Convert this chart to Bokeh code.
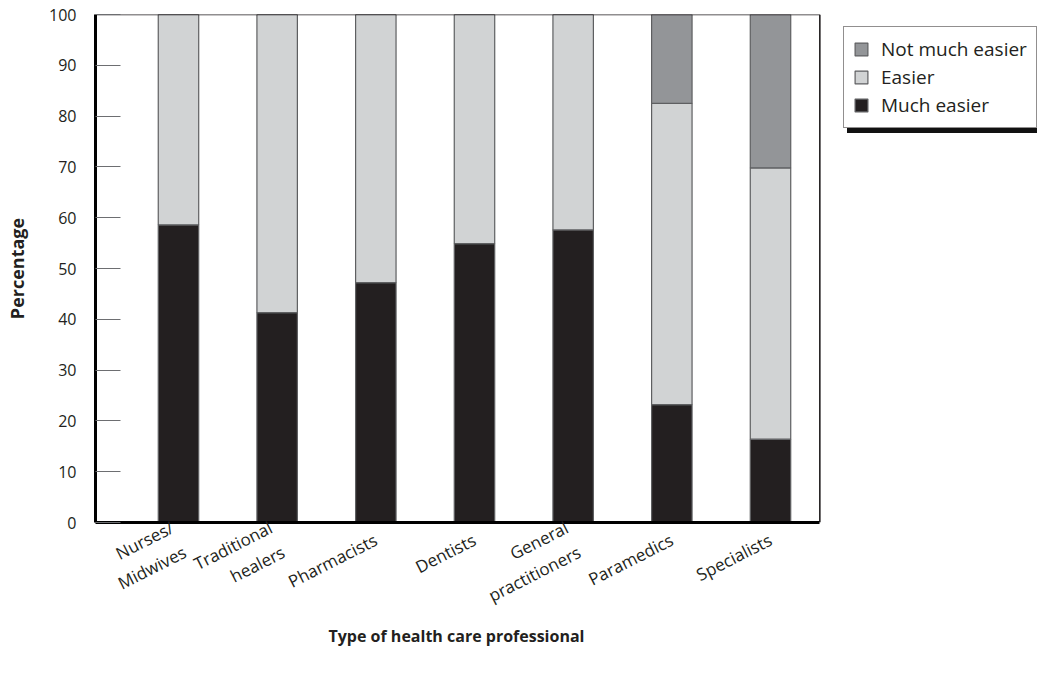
from bokeh.plotting import figure
from bokeh.models import Legend, LegendItem, FixedTicker, Range1d, ColumnDataSource, Title
from bokeh.embed import file_html
from bokeh.resources import INLINE

# ---- data ----
categories = ["Nurses/\nMidwives", "Traditional\nhealers", "Pharmacists", "Dentists",
              "General\npractitioners", "Paramedics", "Specialists"]
much_easier = [58.6, 41.3, 47.2, 54.9, 57.6, 23.2, 16.4]
easier = [41.4, 58.7, 52.8, 45.1, 42.4, 59.3, 53.4]
not_much_easier = [0, 0, 0, 0, 0, 17.5, 30.2]
series_names = ["Much easier", "Easier", "Not much easier"]
series_colors = ["#231f20", "#d1d3d4", "#939598"]
y_ticks = [0, 10, 20, 30, 40, 50, 60, 70, 80, 90, 100]

FONT = "Open Sans"
positions = list(range(len(categories)))
source = ColumnDataSource(dict(x=positions, much=much_easier, easier=easier, notmuch=not_much_easier))

X_START = -0.841
X_END = 8.706                      # frame extends under the legend area
BOX_RIGHT = len(categories) - 0.5  # right edge of the plotting box

p = figure(width=1037, height=669,
           x_range=Range1d(X_START, X_END), y_range=Range1d(0, 100),
           output_backend="svg", toolbar_location=None,
           min_border_left=95, min_border_right=0, min_border_top=14, min_border_bottom=147)
p.background_fill_color = "white"
p.border_fill_color = "white"
p.outline_line_color = None
p.xgrid.visible = False
p.ygrid.visible = False

renderers = p.vbar_stack(["much", "easier", "notmuch"], x="x", width=0.41, source=source,
                         fill_color=series_colors, line_color="#5e5f61", line_width=1.2)

# top and right border of the plotting box
p.segment(x0=[X_START, BOX_RIGHT], y0=[100, 0], x1=[BOX_RIGHT, BOX_RIGHT], y1=[100, 100],
          line_color="#231f20", line_width=1.6)

# x axis
xa = p.xaxis[0]
xa.bounds = (X_START, BOX_RIGHT)
xa.ticker = FixedTicker(ticks=positions)
xa.major_label_overrides = {i: c for i, c in zip(positions, categories)}
xa.major_tick_line_color = None
xa.minor_tick_line_color = None
xa.axis_line_width = 3
xa.axis_line_color = "black"
xa.major_label_orientation = 0.47
xa.major_label_standoff = 10
xa.major_label_text_font = FONT
xa.major_label_text_font_size = "17px"
xa.major_label_text_color = "#231f20"

xtitle = Title(text="Type of health care professional", align="left", offset=233,
               text_font=FONT, text_font_style="bold", text_font_size="16px",
               text_color="#231f20", standoff=-20)
p.add_layout(xtitle, "below")

# y axis
ya = p.yaxis[0]
ya.ticker = FixedTicker(ticks=y_ticks)
ya.major_tick_in = 25
ya.major_tick_out = 0
ya.major_tick_line_color = "#6d6e71"
ya.minor_tick_line_color = None
ya.axis_line_width = 3
ya.axis_line_color = "black"
ya.major_label_standoff = 19
ya.major_label_text_font = FONT
ya.major_label_text_font_size = "16px"
ya.major_label_text_color = "#231f20"
ya.axis_label = "Percentage"
ya.axis_label_text_font = FONT
ya.axis_label_text_font_style = "bold"
ya.axis_label_text_font_size = "18px"
ya.axis_label_text_color = "#231f20"
ya.axis_label_standoff = 17


def make_legend(loc, shadow=False):
    if shadow:
        items = [LegendItem(label=" ", renderers=[renderers[i]]) for i in (2, 1, 0)]
    else:
        items = [LegendItem(label=series_names[i], renderers=[renderers[i]]) for i in (2, 1, 0)]
    lg = Legend(items=items, location=loc, orientation="vertical")
    lg.margin = 0
    lg.padding = 9
    lg.spacing = 2
    lg.glyph_width = 16
    lg.glyph_height = 16
    lg.label_standoff = 12
    lg.label_text_font = FONT
    lg.label_text_font_size = "19px"
    lg.label_height = 16
    lg.border_line_width = 1
    lg.background_fill_alpha = 1.0
    if shadow:
        lg.label_width = 145
        lg.label_height = 26
        lg.background_fill_color = "#111111"
        lg.border_line_color = "#111111"
        lg.label_text_color = "#111111"
    else:
        lg.background_fill_color = "white"
        lg.border_line_color = "#231f20"
        lg.label_text_color = "#231f20"
    return lg


p.add_layout(make_legend((752, 389), shadow=True), "center")
p.add_layout(make_legend((748, 394)), "center")

open("out.html", "w").write(file_html(p, INLINE))
